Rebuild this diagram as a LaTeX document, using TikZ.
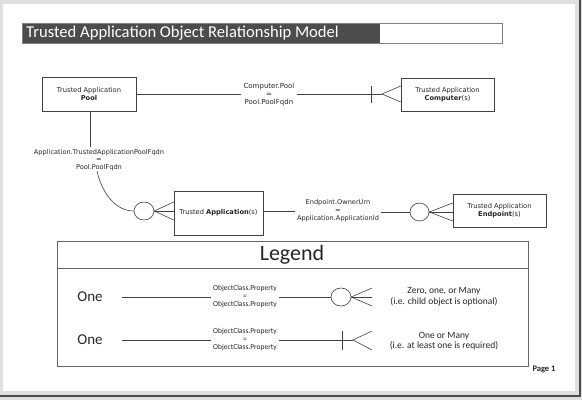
\documentclass[tikz,border=0pt]{standalone}
\usepackage{fontspec}
\setmainfont{Carlito}
\newfontfamily\vfont{DejaVu Sans}
\usetikzlibrary{shapes.geometric}
\begin{document}
\begin{tikzpicture}[x=1pt,y=-1pt,
  ln/.style={draw=black!75, line width=0.6pt},
  box/.style={draw=black!75, line width=0.6pt, rectangle, inner sep=0pt, align=center, font=\vfont\fontsize{6.7}{8}\selectfont, text=black!85},
  lbl/.style={align=center, inner sep=2pt, font=\vfont\fontsize{6.6}{8}\selectfont, text=black!85},
  legl/.style={align=center, inner sep=2pt, font=\fontsize{7.5}{8}\selectfont, text=black!85},
  ring/.style={draw=black!75, line width=0.6pt, ellipse, inner sep=0pt, minimum width=20pt, minimum height=18pt},
  one/.style={font=\fontsize{15}{17}\selectfont, text=black!85, inner sep=0pt},
  desc/.style={align=center, font=\fontsize{9.5}{10.5}\selectfont, text=black!85, inner sep=0pt},
]
\useasboundingbox (0,0) rectangle (582,400);
% page
\fill[black!12] (0,0) rectangle (582,400);
\fill[white] (3,4) rectangle (575,391);
\draw[black!70, line width=1.5pt] (580,0) -- (580,396) -- (0,396);

% title
\fill[black!70] (22,23) rectangle (380,43);
\draw[black!50, line width=0.6pt] (22,23) rectangle (502,43);
\node[anchor=west, text=white, font=\fontsize{16.6}{18}\selectfont, inner sep=0pt] (title) at (26,33.5) {Trusted Application Object Relationship Model};

% entity boxes
\node[box, minimum width=94pt, minimum height=34pt] (pool) at (89,94) {Trusted Application\\\textbf{Pool}};
\node[box, minimum width=93pt, minimum height=33pt] (comp) at (447.5,94.5) {Trusted Application\\\textbf{Computer}(s)};
\node[box, minimum width=89pt, minimum height=44pt] (app) at (218.5,213) {Trusted \textbf{Application}(s)};
\node[box, minimum width=93pt, minimum height=33pt] (ep) at (499.5,210.5) {Trusted Application\\\textbf{Endpoint}(s)};

% Pool -- Computer
\node[lbl, font=\vfont\fontsize{7}{8}\selectfont] (cl) at (269,95) {Computer.Pool\\=\\Pool.PoolFqdn};
\coordinate (cpt) at (382,94);
\draw[ln] (pool.east |- 0,94) -- (cl.west |- 0,94);
\draw[ln] (cl.east |- 0,94) -- (cpt);
\draw[ln] (371,86) -- (371,103);
\draw[ln] (comp.west |- 0,86) -- (cpt) -- (comp.west |- 0,102);

% Pool -- Application
\node[lbl, font=\vfont\fontsize{6.6}{7.5}\selectfont] (al) at (99,160) {Application.TrustedApplicationPoolFqdn\\=\\Pool.PoolFqdn};
\node[ring] (c1) at (144,211) {};
\draw[ln] (pool.south -| 90,0) -- (al.north -| 90,0);
\draw[ln] (97,171) .. controls (103,197) and (118,211) .. (c1.west);
\draw[ln] (c1.east) -- (app.west |- 0,202);
\draw[ln] (c1.east) -- (app.west |- 0,211);
\draw[ln] (c1.east) -- (app.west |- 0,220);

% Application -- Endpoint
\node[lbl] (el) at (338,211) {Endpoint.OwnerUrn\\=\\Application.ApplicationId};
\node[ring, minimum width=19pt] (c2) at (419.5,212) {};
\draw[ln] (app.east |- 0,211) -- (el.west |- 0,211);
\draw[ln] (el.east |- 0,212) -- (c2.west);
\draw[ln] (c2.east) -- (ep.west |- 0,203);
\draw[ln] (c2.east) -- (ep.west |- 0,212);
\draw[ln] (c2.east) -- (ep.west |- 0,221);

% legend
\node[draw=black!60, line width=0.8pt, minimum width=471pt, minimum height=125pt, inner sep=0pt] (leg) at (292.5,303.5) {};
\draw[black!60, line width=0.8pt] (57,268) -- (528,268);
\node[font=\fontsize{22}{24}\selectfont, text=black!85, inner sep=0pt] (legt) at (292,255) {Legend};

% row 1
\node[one] (o1) at (90,297) {One};
\coordinate (s1) at (122,297);
\node[legl] (l1) at (245,297) {ObjectClass.Property\\=\\ObjectClass.Property};
\node[ring] (c3) at (341,297) {};
\draw[ln] (s1) -- (l1.west |- 0,297);
\draw[ln] (l1.east |- 0,297) -- (c3.west);
\draw[ln] (c3.east) -- (372,288);
\draw[ln] (c3.east) -- (372,297);
\draw[ln] (c3.east) -- (372,306);
\node[desc] (d1) at (444,297) {Zero, one, or Many\\(i.e. child object is optional)};

% row 2
\node[one] (o2) at (90,340) {One};
\coordinate (s2) at (122,340);
\node[legl] (l2) at (245,340) {ObjectClass.Property\\=\\ObjectClass.Property};
\coordinate (p2) at (353,340);
\draw[ln] (s2) -- (l2.west |- 0,340);
\draw[ln] (l2.east |- 0,340) -- (p2);
\draw[ln] (342,331) -- (342,350);
\draw[ln] (372,331) -- (p2) -- (372,350);
\node[desc] (d2) at (444,341) {One or Many\\(i.e. at least one is required)};

% page number
\node[font=\fontsize{8.5}{10}\selectfont\bfseries, text=black!85, inner sep=0pt] (pg) at (544,369) {Page 1};
\end{tikzpicture}
\end{document}
